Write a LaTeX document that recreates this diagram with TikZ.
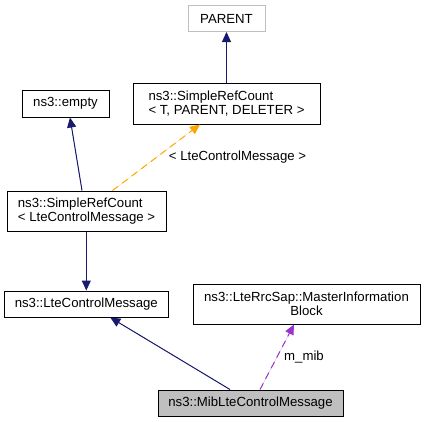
\documentclass[tikz,border=0pt]{standalone}
\usepackage{fontspec}
\setmainfont{Liberation Sans}
\usetikzlibrary{arrows.meta,calc}
\definecolor{edgeblue}{HTML}{191970}
\definecolor{edgeorange}{HTML}{FFA500}
\definecolor{edgepurple}{HTML}{9A32CD}
\definecolor{boxgray}{HTML}{BFBFBF}
\begin{document}
\begin{tikzpicture}[x=1pt,y=-1pt,
  every node/.style={font=\fontsize{13.2}{14.5}\selectfont},
  cls/.style={draw=black,line width=1pt,rectangle,inner sep=0pt,anchor=center},
  tip/.style={-{Triangle[length=10pt,width=9pt]}},
  inherit/.style={tip,draw=edgeblue,fill=edgeblue,line width=1pt},
  tmpl/.style={tip,draw=edgeorange,fill=edgeorange,line width=1pt,dash pattern=on 7pt off 5pt},
  usage/.style={tip,draw=edgepurple,fill=edgepurple,line width=1pt,dash pattern=on 7pt off 5pt},
  lbl/.style={inner sep=0pt}]
\useasboundingbox (0,0) rectangle (425,421);
\node[cls,draw=boxgray,minimum width=77pt,minimum height=26pt] (parent) at (226.5,18.5) {PARENT};
\node[cls,minimum width=187pt,minimum height=41pt,align=left] (srct) at (226.5,103.5) {ns3::SimpleRefCount\\< T, PARENT, DELETER >};
\node[cls,minimum width=87pt,minimum height=27pt] (empty) at (65.5,103.5) {ns3::empty};
\node[cls,minimum width=159pt,minimum height=40pt,align=left] (srcl) at (86.5,211) {ns3::SimpleRefCount\\< LteControlMessage >};
\node[cls,minimum width=164pt,minimum height=26pt] (lcm) at (86.3,304) {ns3::LteControlMessage};
\node[cls,minimum width=227pt,minimum height=40pt,align=center] (mib) at (306.5,304) {ns3::LteRrcSap::MasterInformation\\Block};
\node[cls,fill=boxgray,minimum width=185pt,minimum height=26pt] (miblte) at (250.5,403) {ns3::MibLteControlMessage};

\draw[inherit] (srct.north) -- (parent.south);
\draw[inherit] ([xshift=-4.5pt]srcl.north) -- ([xshift=4.5pt]empty.south);
\draw[tmpl] ([xshift=26pt]srcl.north) -- ([xshift=-26.5pt]srct.south);
\draw[inherit] (srcl.south -| lcm.north) -- (lcm.north);
\draw[inherit] ([xshift=-20.5pt]miblte.north) -- ([xshift=24pt]lcm.south);
\draw[usage] ([xshift=9.5pt]miblte.north) -- ([xshift=-12.5pt]mib.south);

\node[lbl] (tlabel) at (237.5,157) {< LteControlMessage >};
\node[lbl] (mlabel) at (304,357) {m\_mib};
\end{tikzpicture}
\end{document}
